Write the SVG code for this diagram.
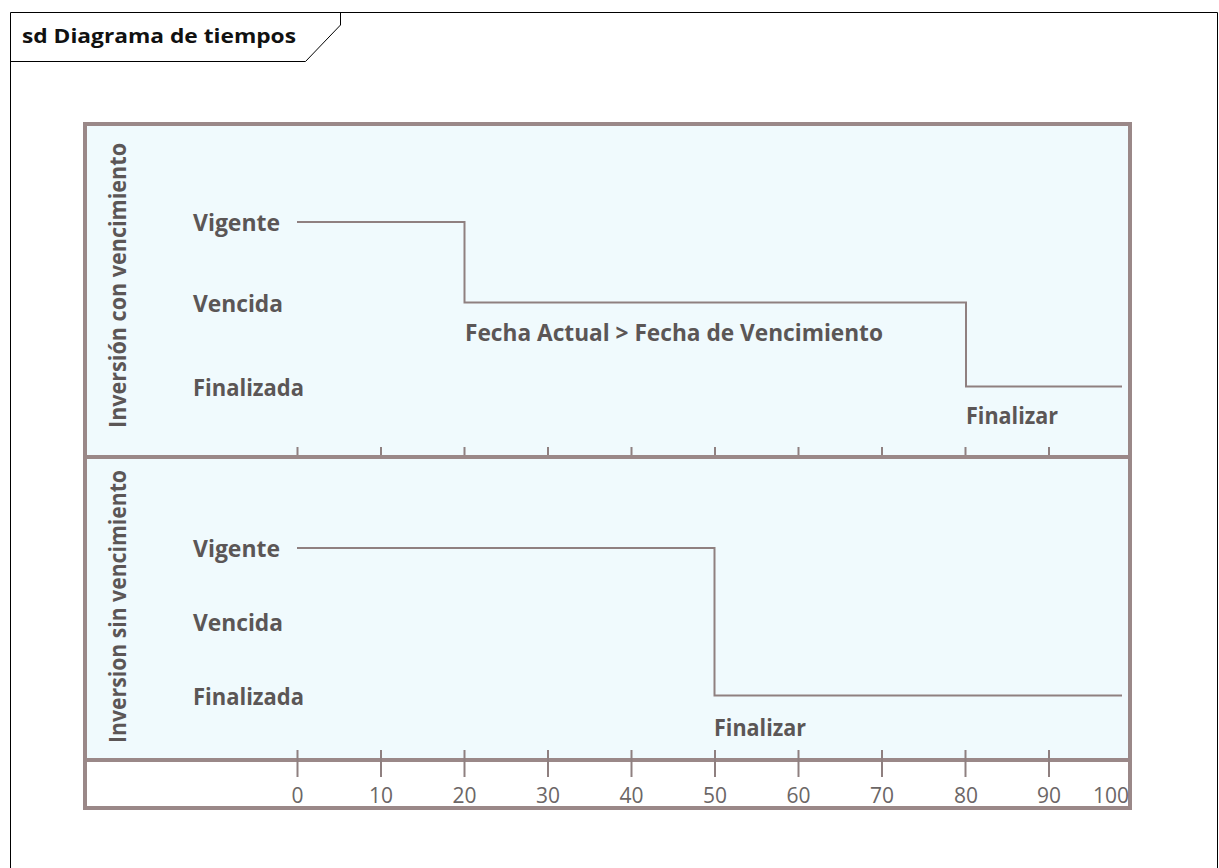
<svg xmlns="http://www.w3.org/2000/svg" width="1219" height="868" viewBox="0 0 1219 868">
<style>
.lbl{font-family:"Open Sans","Liberation Sans",sans-serif;font-weight:700;font-size:24px;fill:#5b5656}
.num{font-family:"Open Sans","Liberation Sans",sans-serif;font-size:21px;fill:#6b6666;text-anchor:middle}
.title{font-family:"Open Sans","Liberation Sans",sans-serif;font-weight:700;font-size:20px;fill:#111}
.panel{fill:#f0fafd;stroke:#9a8888;stroke-width:4}
.wave{fill:none;stroke:#8f8080;stroke-width:2}
.tick{stroke:#8f8080;stroke-width:2}
</style>
<rect x="0" y="0" width="1219" height="868" fill="#ffffff"/>
<g id="frame">
<path d="M10.5 880 V12.5 H1217.5 V880" fill="none" stroke="#000" stroke-width="1"/>
<path d="M10.5 61.5 H305.5 L340.5 25 V12.5" fill="none" stroke="#000" stroke-width="1"/>
<text class="title" x="22" y="43" textLength="274" lengthAdjust="spacingAndGlyphs">sd Diagrama de tiempos</text>
</g>
<g id="lifeline-con">
<rect class="panel" x="85" y="124" width="1045" height="333"/>
<text class="lbl" transform="translate(126 285.5) rotate(-90)" text-anchor="middle" textLength="285" lengthAdjust="spacingAndGlyphs">Inversión con vencimiento</text>
<text class="lbl" x="193" y="231" textLength="87" lengthAdjust="spacingAndGlyphs">Vigente</text>
<text class="lbl" x="193" y="312" textLength="90" lengthAdjust="spacingAndGlyphs">Vencida</text>
<text class="lbl" x="193" y="396" textLength="111" lengthAdjust="spacingAndGlyphs">Finalizada</text>
<g class="tick">
<line x1="297.5" y1="447" x2="297.5" y2="457"/><line x1="381" y1="447" x2="381" y2="457"/><line x1="464.5" y1="447" x2="464.5" y2="457"/><line x1="548" y1="447" x2="548" y2="457"/><line x1="631.5" y1="447" x2="631.5" y2="457"/><line x1="715" y1="447" x2="715" y2="457"/><line x1="798.5" y1="447" x2="798.5" y2="457"/><line x1="882" y1="447" x2="882" y2="457"/><line x1="965.5" y1="447" x2="965.5" y2="457"/><line x1="1049" y1="447" x2="1049" y2="457"/>
</g>
</g>
<g id="lifeline-sin">
<rect class="panel" x="85" y="457" width="1045" height="303"/>
<text class="lbl" transform="translate(126 606.5) rotate(-90)" text-anchor="middle" textLength="273" lengthAdjust="spacingAndGlyphs">Inversion sin vencimiento</text>
<text class="lbl" x="193" y="557" textLength="87" lengthAdjust="spacingAndGlyphs">Vigente</text>
<text class="lbl" x="193" y="631" textLength="90" lengthAdjust="spacingAndGlyphs">Vencida</text>
<text class="lbl" x="193" y="705" textLength="111" lengthAdjust="spacingAndGlyphs">Finalizada</text>
</g>
<g id="axis">
<rect x="85" y="760" width="1045" height="48" fill="#ffffff" stroke="#9a8888" stroke-width="4"/>
<g class="tick">
<line x1="297.5" y1="750" x2="297.5" y2="777"/><line x1="381" y1="750" x2="381" y2="777"/><line x1="464.5" y1="750" x2="464.5" y2="777"/><line x1="548" y1="750" x2="548" y2="777"/><line x1="631.5" y1="750" x2="631.5" y2="777"/><line x1="715" y1="750" x2="715" y2="777"/><line x1="798.5" y1="750" x2="798.5" y2="777"/><line x1="882" y1="750" x2="882" y2="777"/><line x1="965.5" y1="750" x2="965.5" y2="777"/><line x1="1049" y1="750" x2="1049" y2="777"/>
</g>
<text class="num" x="297.5" y="803">0</text>
<text class="num" x="381" y="803">10</text>
<text class="num" x="464.5" y="803">20</text>
<text class="num" x="548" y="803">30</text>
<text class="num" x="631.5" y="803">40</text>
<text class="num" x="715" y="803">50</text>
<text class="num" x="798.5" y="803">60</text>
<text class="num" x="882" y="803">70</text>
<text class="num" x="966" y="803">80</text>
<text class="num" x="1049" y="803">90</text>
<text class="num" x="1111" y="803">100</text>
</g>
<g id="connectors">
<path class="wave" d="M297 222 H464.5 V302.5 H966 V386.5 H1122"/>
<path class="wave" d="M297 548 H714.5 V695.5 H1122"/>
<text class="lbl" x="465" y="341" textLength="418" lengthAdjust="spacingAndGlyphs">Fecha Actual &gt; Fecha de Vencimiento</text>
<text class="lbl" x="966" y="424" textLength="92" lengthAdjust="spacingAndGlyphs">Finalizar</text>
<text class="lbl" x="714" y="736" textLength="92" lengthAdjust="spacingAndGlyphs">Finalizar</text>
</g>
</svg>
